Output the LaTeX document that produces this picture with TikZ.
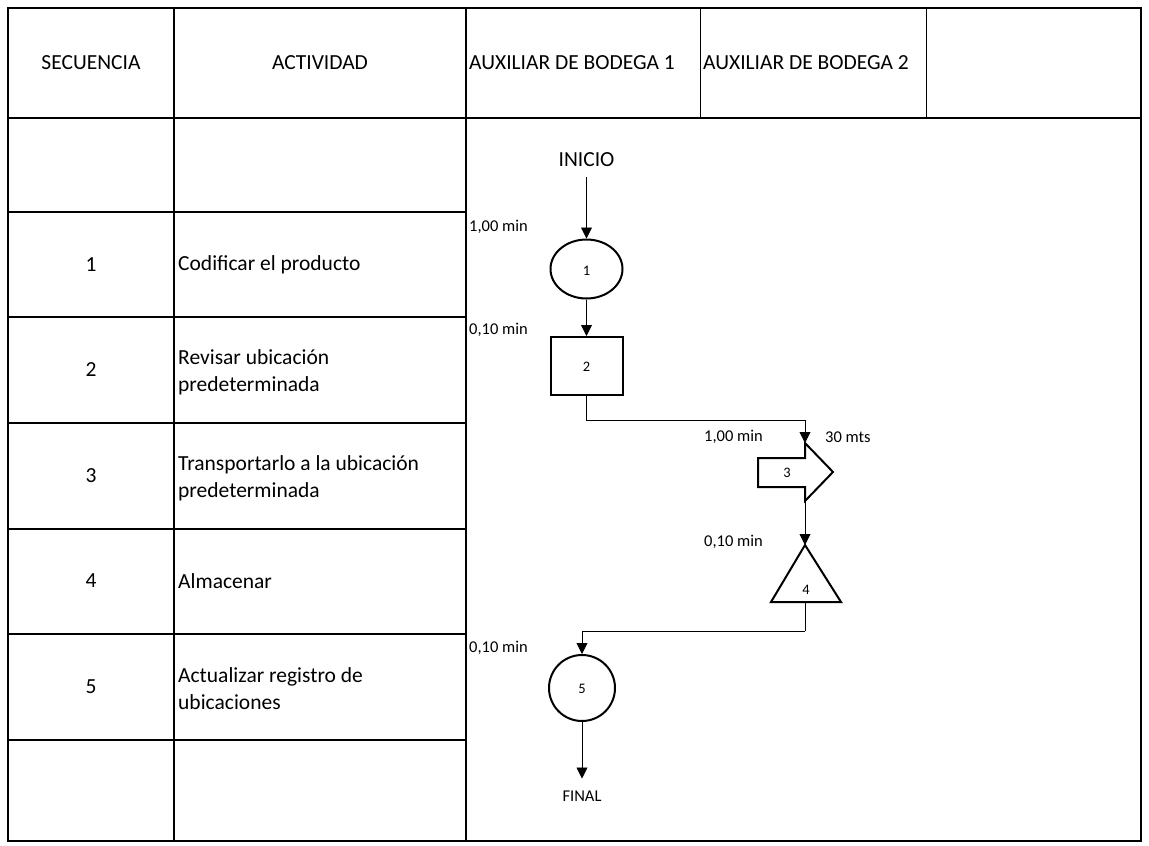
\documentclass[tikz,border=0pt]{standalone}
\usepackage{fontspec}
\setmainfont{Carlito}
\usetikzlibrary{arrows.meta,shapes.geometric}

\tikzset{
  grid/.style={line width=2.6pt, line cap=rect},
  gridthin/.style={line width=1pt},
  txt/.style={font=\fontsize{21.5}{27}\selectfont, inner sep=0pt},
  small/.style={font=\fontsize{16.5}{20}\selectfont, inner sep=0pt},
  tiny/.style={font=\fontsize{14.5}{17}\selectfont, inner sep=0pt},
  symb/.style={draw, line width=2pt, fill=white, inner sep=0pt},
  flow/.style={line width=0.9pt, -{Triangle[length=11pt,width=11pt]}},
  link/.style={line width=0.9pt},
}

\begin{document}
\begin{tikzpicture}[x=1pt, y=-1pt]
\useasboundingbox (0,0) rectangle (1149,846);

% table frame
\draw[grid] (8,8) rectangle (1141,841);
\draw[grid] (8,118) -- (1141,118);
\draw[grid] (174,8) -- (174,841);
\draw[grid] (466,8) -- (466,841);
\draw[gridthin] (700,8) -- (700,118);
\draw[gridthin] (926,8) -- (926,118);
\foreach \yy in {212,317,423,529,634,740}
  \draw[grid] (8,\yy) -- (466,\yy);

% header
\node[txt] (hsec) at (91,63) {SECUENCIA};
\node[txt] (hact) at (320,63) {ACTIVIDAD};
\node[txt, anchor=west] (haux1) at (469,63) {AUXILIAR DE BODEGA 1};
\node[txt, anchor=west] (haux2) at (703,63) {AUXILIAR DE BODEGA 2};

% sequence numbers
\node[txt] (s1) at (91,265) {1};
\node[txt] (s2) at (91,370) {2};
\node[txt] (s3) at (91,476) {3};
\node[txt] (s4) at (91,581) {4};
\node[txt] (s5) at (91,687) {5};

% activities
\node[txt, anchor=west, align=left] (a1) at (178,265) {Codificar el producto};
\node[txt, anchor=west, align=left] (a2) at (178,372) {Revisar ubicación\\predeterminada};
\node[txt, anchor=west, align=left] (a3) at (178,478) {Transportarlo a la ubicación\\predeterminada};
\node[txt, anchor=west, align=left] (a4) at (178,581) {Almacenar};
\node[txt, anchor=west, align=left] (a5) at (178,689) {Actualizar registro de\\ubicaciones};

% process symbols
\node[txt, inner ysep=10pt] (ini) at (586.5,160) {INICIO};
\node[symb, ellipse, minimum width=72pt, minimum height=59pt] (op1) at (586.5,269) {};
\node[tiny] (l1) at (586.5,271) {1};
\node[symb, rectangle, minimum width=72pt, minimum height=58pt] (ins2) at (586.5,366) {};
\node[tiny] (l2) at (586.5,367) {2};

% transport arrow
\draw[symb] (758,458) -- (805,458) -- (805,443) -- (833,472) -- (805,501)
  -- (805,487) -- (758,487) -- cycle;
\coordinate (tr3top) at (805,443);
\coordinate (tr3bot) at (805,501);
\node[tiny] (l3) at (787,473) {3};

% storage triangle
\draw[symb] (805,545) -- (841,602) -- (771,602) -- cycle;
\coordinate (st4top) at (805,545);
\coordinate (st4bot) at (805,602);
\node[tiny] (l4) at (806,590) {4};

\node[symb, circle, minimum size=66pt] (op5) at (582,688) {};
\node[tiny] (l5) at (582,689) {5};
\node[small, inner ysep=12pt] (fin) at (582,796) {FINAL};

% connectors
\coordinate (k1) at (805,420);
\coordinate (k2) at (805,631);
\draw[flow] (ini.south) -- (op1.north);
\draw[flow] (op1.south) -- (ins2.north);
\draw[link] (ins2.south) |- (k1);
\draw[flow] (k1) -- (tr3top);
\draw[flow] (tr3bot) -- (st4top);
\draw[link] (st4bot) -- (k2);
\draw[flow] (k2) -| (op5.north);
\draw[flow] (op5.south) -- (fin.north);

% times and distance
\node[small, anchor=west] (t1) at (469,227) {1,00 min};
\node[small, anchor=west] (t2) at (469,330) {0,10 min};
\node[small, anchor=east] (t3) at (763,437) {1,00 min};
\node[small, anchor=west] (d3) at (825,437) {30 mts};
\node[small, anchor=east] (t4) at (763,542) {0,10 min};
\node[small, anchor=west] (t5) at (469,648) {0,10 min};
\end{tikzpicture}
\end{document}
